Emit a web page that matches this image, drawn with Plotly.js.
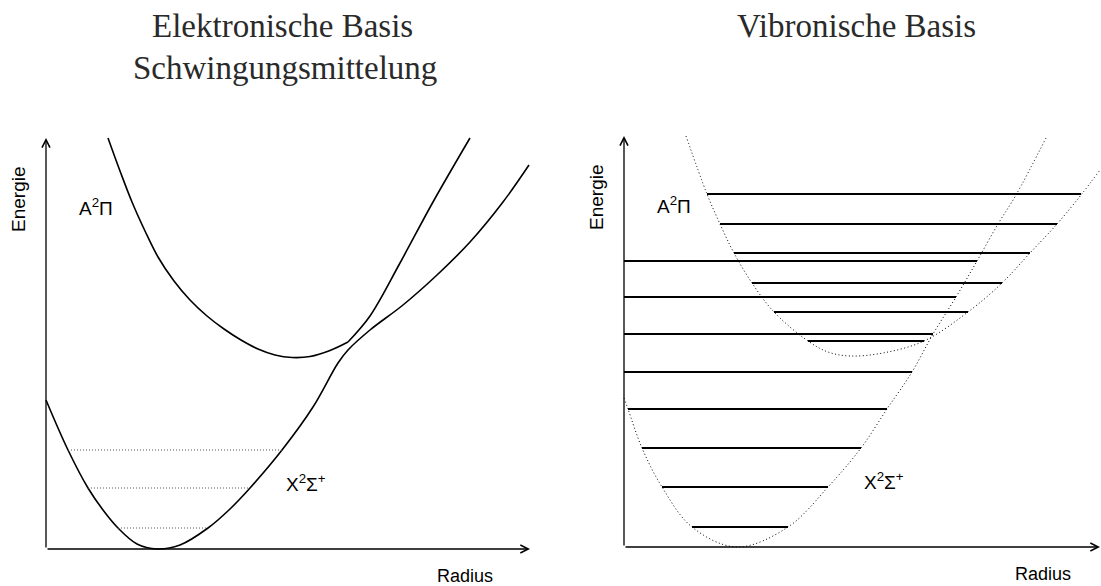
<!DOCTYPE html>
<html>
<head>
<meta charset="utf-8">
<script src="https://cdn.plot.ly/plotly-3.0.1.min.js"></script>
<style>
  html, body { margin: 0; padding: 0; background: #ffffff; }
  #chart { width: 1101px; height: 586px; }
</style>
</head>
<body>
<div id="chart"></div>
<script>
// ---- Electronic basis (left): adiabatic potential curves, radius r vs. energy E (arb. units)
const upperR = [0.62, 0.74, 0.86, 0.99, 1.12, 1.28, 1.44, 1.61, 1.78, 1.95, 2.12, 2.29, 2.46, 2.64, 2.84, 3.02, 3.24, 3.54, 3.87, 4.24];
const upperE = [4.11, 3.78, 3.47, 3.18, 2.92, 2.68, 2.49, 2.33, 2.20, 2.09, 2.00, 1.94, 1.915, 1.925, 1.985, 2.07, 2.33, 2.86, 3.47, 4.11];
const upperBend = 15; // avoided crossing: the upper curve has a corner here

const lowerR = [0.00, 0.22, 0.42, 0.57, 0.72, 0.91, 1.11, 1.34, 1.62, 1.84, 2.04, 2.36, 2.67, 2.92, 3.02, 3.24, 3.57, 3.91, 4.24, 4.57, 4.83];
const lowerE = [1.49, 0.99, 0.61, 0.39, 0.21, 0.05, 0.00, 0.04, 0.21, 0.40, 0.61, 0.99, 1.42, 1.86, 1.99, 2.19, 2.44, 2.74, 3.07, 3.47, 3.84];

// averaged vibrational levels in the lower well
const avgLevelE  = [0.99, 0.61, 0.21];
const avgLevelR0 = [0.22, 0.42, 0.72];
const avgLevelR1 = [2.36, 2.04, 1.62];

// ---- Vibronic basis (right): diabatic curves and their vibrational levels
const aCurveR = [0.62, 0.83, 0.96, 1.10, 1.28, 1.50, 1.84, 2.04, 2.26, 2.59, 3.00, 3.44, 3.78, 4.06, 4.33, 4.57, 4.76];
const aCurveE = [4.11, 3.53, 3.23, 2.94, 2.64, 2.35, 2.06, 1.95, 1.91, 1.94, 2.06, 2.35, 2.64, 2.94, 3.23, 3.52, 3.77];

const xCurveR = [0.00, 0.04, 0.18, 0.38, 0.68, 1.13, 1.64, 2.04, 2.37, 2.63, 2.88, 3.09, 3.32, 3.53, 3.74, 3.92, 4.23];
const xCurveE = [1.49, 1.38, 0.99, 0.60, 0.20, 0.00, 0.20, 0.60, 0.99, 1.38, 1.75, 2.13, 2.50, 2.86, 3.23, 3.52, 4.11];

const aLevelE  = [3.53, 3.23, 2.94, 2.64, 2.35, 2.06];
const aLevelR0 = [0.83, 0.96, 1.10, 1.28, 1.50, 1.84];
const aLevelR1 = [4.57, 4.33, 4.06, 3.78, 3.44, 3.00];

const xLevelE  = [2.86, 2.50, 2.13, 1.75, 1.38, 0.99, 0.60, 0.20];
const xLevelR0 = [0.00, 0.00, 0.00, 0.00, 0.04, 0.18, 0.38, 0.68];
const xLevelR1 = [3.53, 3.32, 3.09, 2.88, 2.63, 2.37, 2.04, 1.64];

// axis extents (arrow tips)
const axisTopE = 4.11;
const leftAxisEndR = 4.84;
const rightAxisEndR = 4.76;

// text
const leftTitle = ['Elektronische Basis', 'Schwingungsmittelung'];
const rightTitle = 'Vibronische Basis';
const labelA = 'A<sup>2</sup>\u03A0';
const labelX = 'X<sup>2</sup>\u03A3<sup>+</sup>';
const labelY = 'Energie';
const labelXAxis = 'Radius';

// ---------------------------------------------------------------
function segments(r0, r1, e) {
  const xs = [], ys = [];
  for (let i = 0; i < e.length; i++) {
    xs.push(r0[i], r1[i], null);
    ys.push(e[i], e[i], null);
  }
  return { x: xs, y: ys };
}

const solid = { color: '#000000', width: 1.6, shape: 'spline', smoothing: 1 };
const traces = [];

// left panel
traces.push({ x: upperR.slice(0, upperBend + 1), y: upperE.slice(0, upperBend + 1),
  mode: 'lines', line: solid, xaxis: 'x', yaxis: 'y', hoverinfo: 'skip' });
traces.push({ x: upperR.slice(upperBend), y: upperE.slice(upperBend),
  mode: 'lines', line: solid, xaxis: 'x', yaxis: 'y', hoverinfo: 'skip' });
traces.push({ x: lowerR, y: lowerE, mode: 'lines', line: solid, xaxis: 'x', yaxis: 'y', hoverinfo: 'skip' });
const avg = segments(avgLevelR0, avgLevelR1, avgLevelE);
traces.push({ x: avg.x, y: avg.y, mode: 'lines', connectgaps: false,
  line: { color: '#555555', width: 1, dash: '1px,2px' }, xaxis: 'x', yaxis: 'y', hoverinfo: 'skip' });

// right panel
const dotted = { color: '#000000', width: 1, dash: '1px,2.5px', shape: 'spline', smoothing: 1 };
traces.push({ x: aCurveR, y: aCurveE, mode: 'lines', line: dotted, xaxis: 'x2', yaxis: 'y2', hoverinfo: 'skip' });
traces.push({ x: xCurveR, y: xCurveE, mode: 'lines', line: dotted, xaxis: 'x2', yaxis: 'y2', hoverinfo: 'skip' });
const aLv = segments(aLevelR0, aLevelR1, aLevelE);
const xLv = segments(xLevelR0, xLevelR1, xLevelE);
traces.push({ x: aLv.x, y: aLv.y, mode: 'lines', connectgaps: false,
  line: { color: '#000000', width: 2 }, xaxis: 'x2', yaxis: 'y2', hoverinfo: 'skip' });
traces.push({ x: xLv.x, y: xLv.y, mode: 'lines', connectgaps: false,
  line: { color: '#000000', width: 2 }, xaxis: 'x2', yaxis: 'y2', hoverinfo: 'skip' });

// ---------------------------------------------------------------
const hidden = { visible: false, fixedrange: true };
const sans = { family: '"Liberation Sans", Arial, sans-serif', size: 18, color: '#000000' };
const sansAxisY = { family: '"Liberation Sans", Arial, sans-serif', size: 19, color: '#000000' };
const sansState = { family: '"Liberation Sans", Arial, sans-serif', size: 19, color: '#000000' };
const serif = { family: '"Liberation Serif", "Times New Roman", serif', size: 33, color: '#2a2a2a' };

function arrow(xref, yref, x, y) {
  return { xref: xref, yref: yref, axref: xref, ayref: yref, x: x, y: y, ax: 0, ay: 0,
    text: '', showarrow: true, arrowhead: 5, arrowsize: 1.2, arrowwidth: 1.3, arrowcolor: '#000000' };
}
function label(xref, yref, x, y, text, font, extra) {
  return Object.assign({ xref: xref, yref: yref, x: x, y: y, text: text, showarrow: false,
    xanchor: 'center', yanchor: 'middle', font: font }, extra || {});
}

const annotations = [
  arrow('x', 'y', 0, axisTopE),
  arrow('x', 'y', leftAxisEndR, 0),
  arrow('x2', 'y2', 0, axisTopE),
  arrow('x2', 'y2', rightAxisEndR, 0),

  label('x', 'y', -0.28, 3.50, labelY, sansAxisY, { textangle: -90 }),
  label('x2', 'y2', -0.28, 3.50, labelY, sansAxisY, { textangle: -90 }),
  label('x', 'y', 4.19, -0.27, labelXAxis, sans),
  label('x2', 'y2', 4.19, -0.27, labelXAxis, sans),
  label('x', 'y', 0.50, 3.42, labelA, sansState),
  label('x2', 'y2', 0.50, 3.42, labelA, sansState),
  label('x', 'y', 2.60, 0.66, labelX, sansState),
  label('x2', 'y2', 2.60, 0.66, labelX, sansState),

  { xref: 'paper', yref: 'paper', x: 0.257, y: 0.955, text: leftTitle[0], showarrow: false,
    xanchor: 'center', yanchor: 'middle', font: serif },
  { xref: 'paper', yref: 'paper', x: 0.259, y: 0.884, text: leftTitle[1], showarrow: false,
    xanchor: 'center', yanchor: 'middle', font: serif },
  { xref: 'paper', yref: 'paper', x: 0.778, y: 0.955, text: rightTitle, showarrow: false,
    xanchor: 'center', yanchor: 'middle', font: serif }
];

const layout = {
  width: 1101, height: 586,
  margin: { l: 0, r: 0, t: 0, b: 0, pad: 0 },
  paper_bgcolor: '#ffffff', plot_bgcolor: '#ffffff',
  showlegend: false,
  xaxis:  Object.assign({ domain: [0, 0.5], range: [-0.46, 5.045] }, hidden),
  yaxis:  Object.assign({ domain: [0, 1], range: [-0.37, 5.49] }, hidden),
  xaxis2: Object.assign({ domain: [0.5, 1], range: [-0.735, 4.77], anchor: 'y2' }, hidden),
  yaxis2: Object.assign({ domain: [0, 1], range: [-0.39, 5.47], anchor: 'x2' }, hidden),
  annotations: annotations
};

Plotly.newPlot('chart', traces, layout, { staticPlot: true, displayModeBar: false });
</script>
</body>
</html>
